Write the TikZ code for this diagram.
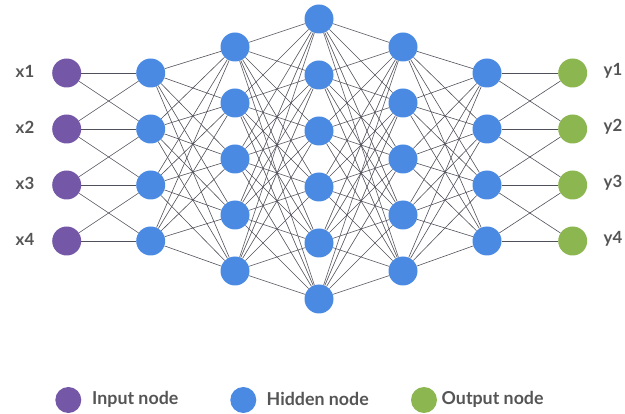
\documentclass[tikz,border=0pt]{standalone}
\usepackage{fontspec}
\setmainfont{Lato}
\definecolor{inpc}{HTML}{7457A6}
\definecolor{hidc}{HTML}{4A8AE3}
\definecolor{outc}{HTML}{8CB64F}
\definecolor{txtc}{HTML}{555555}
\definecolor{edgec}{HTML}{50505A}
\begin{document}
\begin{tikzpicture}[x=1pt,y=-1pt,
  neuron/.style={circle,minimum size=29pt,inner sep=0pt},
  inneuron/.style={neuron,fill=inpc},
  hidneuron/.style={neuron,fill=hidc},
  outneuron/.style={neuron,fill=outc},
  legdot/.style={circle,minimum size=26pt,inner sep=0pt},
  edge/.style={draw=edgec,line width=0.6pt},
  lbl/.style={text=txtc,font=\bfseries\fontsize{16.8}{16.8}\selectfont},
  leglbl/.style={text=txtc,anchor=west,inner sep=0pt,font=\bfseries\fontsize{17.8}{17.8}\selectfont}]
\useasboundingbox (0,0) rectangle (625,414);
% nodes
\foreach \i in {1,...,4} {
  \node[inneuron] (a\i) at (66.7,{73+56*(\i-1)}) {};
  \node[hidneuron] (b\i) at (150.7,{73+56*(\i-1)}) {};
  \node[hidneuron] (f\i) at (487,{73+56*(\i-1)}) {};
  \node[outneuron] (g\i) at (572.7,{73+56*(\i-1)}) {};
  \node[lbl] (lx\i) at (25,{71+56*(\i-1)}) {x\i};
  \node[lbl] (ly\i) at (613,{71+56*(\i-1)}) {y\i};
}
\foreach \i in {1,...,5} {
  \node[hidneuron] (c\i) at (235,{47+56*(\i-1)}) {};
  \node[hidneuron] (e\i) at (403,{47+56*(\i-1)}) {};
}
\foreach \i in {1,...,6} {
  \node[hidneuron] (d\i) at (319,{19+56*(\i-1)}) {};
}
% edges
\foreach \i/\j in {1/1,1/2,2/1,2/2,2/3,3/2,3/3,3/4,4/3,4/4} {
  \draw[edge] (a\i) -- (b\j);
  \draw[edge] (f\i) -- (g\j);
}
\foreach \i in {1,...,4} \foreach \j in {1,...,5} {
  \draw[edge] (b\i) -- (c\j);
  \draw[edge] (e\j) -- (f\i);
}
\foreach \i in {1,...,5} \foreach \j in {1,...,6} {
  \draw[edge] (c\i) -- (d\j);
  \draw[edge] (d\j) -- (e\i);
}
% legend
\node[legdot,fill=inpc] (k1) at (68.3,400) {};
\node[leglbl] (t1) at (92,399) {Input node};
\node[legdot,fill=hidc] (k2) at (243.3,400) {};
\node[leglbl] (t2) at (266.5,399) {Hidden node};
\node[legdot,fill=outc] (k3) at (424,400) {};
\node[leglbl] (t3) at (441.5,399) {Output node};
\end{tikzpicture}
\end{document}
